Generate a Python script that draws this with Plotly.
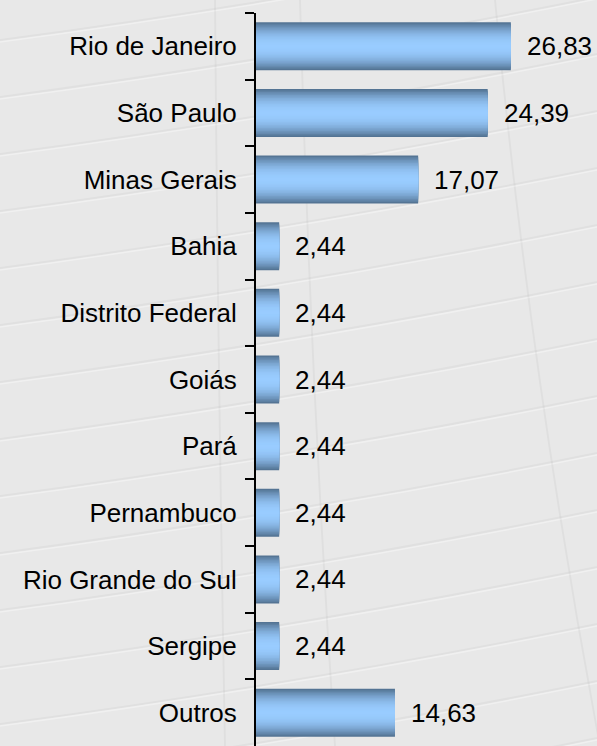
import plotly.graph_objects as go

categories = ["Rio de Janeiro", "São Paulo", "Minas Gerais", "Bahia", "Distrito Federal",
              "Goiás", "Pará", "Pernambuco", "Rio Grande do Sul", "Sergipe", "Outros"]
values = [26.83, 24.39, 17.07, 2.44, 2.44, 2.44, 2.44, 2.44, 2.44, 2.44, 14.63]

W, H = 597, 746
ML, MR, MT, MB = 256, 0, 13, 0
FONT = "Liberation Sans, Arial"

edge = (84, 116, 148)
center = (153, 204, 255)

fig = go.Figure()
N = 16
full_w = 0.72
for i in range(N):
    d = 1 - i / N
    f = d ** 2.2
    col = tuple(round(center[k] + (edge[k] - center[k]) * f) for k in range(3))
    fig.add_trace(go.Bar(
        x=values, y=categories, orientation="h",
        width=full_w * d,
        marker=dict(color="rgb(%d,%d,%d)" % col, line=dict(width=0)),
        hoverinfo="skip", showlegend=False,
    ))

for c, v in zip(categories, values):
    fig.add_annotation(x=v, y=c, text=("%.2f" % v).replace(".", ","),
                       showarrow=False, xanchor="left", xshift=14,
                       font=dict(family=FONT, size=26, color="black"))

# faint background texture (decoration)
pw, ph = W - ML - MR, H - MT - MB
def P(X, Y):
    return "%.4f,%.4f" % ((X - ML) / pw, 1 - (Y - MT) / ph)

shapes = []
for k in range(-2, 15):
    y0 = 40 + 57 * k
    path = "M " + P(0, y0) + " Q " + P(300, y0 - 40) + " " + P(W, y0 - 100)
    shapes.append(dict(type="path", xref="paper", yref="paper", path=path,
                       line=dict(color="rgba(0,0,0,0.03)", width=2), layer="below"))
    path2 = "M " + P(0, y0 + 2) + " Q " + P(300, y0 - 38) + " " + P(W, y0 - 98)
    shapes.append(dict(type="path", xref="paper", yref="paper", path=path2,
                       line=dict(color="rgba(255,255,255,0.35)", width=1.5), layer="below"))
for (xa, xb, xc) in [(495, 530, 600), (215, 218, 225), (300, 310, 335)]:
    path = "M " + P(xa, 0) + " Q " + P(xb, 373) + " " + P(xc, H)
    shapes.append(dict(type="path", xref="paper", yref="paper", path=path,
                       line=dict(color="rgba(0,0,0,0.035)", width=2), layer="below"))

fig.update_layout(
    width=W, height=H,
    barmode="overlay",
    paper_bgcolor="#e8e8e8", plot_bgcolor="rgba(0,0,0,0)",
    margin=dict(l=ML, r=MR, t=MT, b=MB),
    separators=",.",
    shapes=shapes,
    font=dict(family=FONT, size=26, color="black"),
    xaxis=dict(range=[0, 35.9], visible=False, showgrid=False, zeroline=False),
    yaxis=dict(categoryorder="array", categoryarray=categories, autorange="reversed",
               showline=True, linecolor="black", linewidth=2,
               ticks="outside", ticklen=9, tickwidth=2, tickcolor="black",
               tickson="boundaries", ticklabelstandoff=12, showgrid=False,
               tickfont=dict(family=FONT, size=26, color="black")),
)

fig.write_html("out.html", config={"displayModeBar": False},
               post_script="document.body.style.margin='0';document.body.style.background='#e8e8e8';")
